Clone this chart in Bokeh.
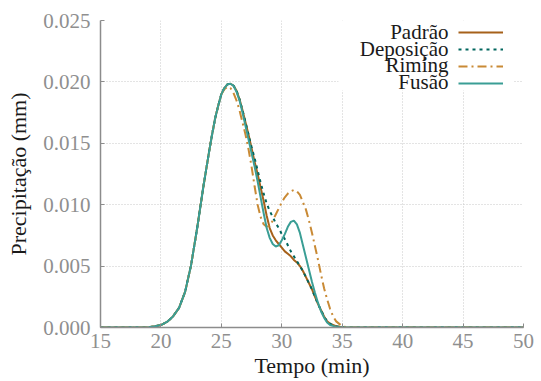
from bokeh.plotting import figure
from bokeh.models import (Legend, LegendItem, Label, BoxAnnotation, FixedTicker,
                          PrintfTickFormatter, Range1d)
from bokeh.embed import file_html
from bokeh.resources import INLINE

# ---------------- data ----------------
series_names = ["Padrão", "Deposição", "Riming", "Fusão"]

tempo_subida = [15, 16, 17, 18, 18.5, 19, 19.5, 20, 20.5, 21, 21.5, 22, 22.5, 23,
                23.5, 24, 24.25, 24.5, 24.75, 25]
precip_subida = [0, 0, 0, 0, 0.00001, 0.00003, 0.0001, 0.0002, 0.00045, 0.0009,
                 0.0016, 0.0029, 0.0051, 0.0081, 0.0114, 0.0144, 0.0158, 0.0171,
                 0.0181, 0.0190]

tempo_padrao = [25.25, 25.5, 25.75, 26.0, 26.25, 26.5, 26.75, 27.0, 27.25, 27.5, 27.75,
                28.0, 28.25, 28.5, 28.75, 29.0, 29.25, 29.5, 29.75, 30.0, 30.25, 30.5,
                30.75, 31.0, 31.25, 31.5, 31.75, 32.0, 32.25, 32.5, 32.75, 33.0, 33.25,
                33.5, 33.75, 34.0, 34.5, 35.0, 36.0, 50.0]
precip_padrao = [0.0195, 0.0198, 0.01985, 0.0197, 0.0193, 0.0186, 0.0177, 0.0167, 0.0157,
                 0.0146, 0.0135, 0.0125, 0.0114, 0.0103, 0.0091, 0.0081, 0.0075, 0.0071,
                 0.0068, 0.0065, 0.0062, 0.0060, 0.0058, 0.0055, 0.0053, 0.0050, 0.0046,
                 0.0041, 0.0036, 0.0031, 0.0025, 0.0019, 0.0014, 0.0009, 0.0005, 0.0003,
                 0.0001, 0.00002, 0, 0]

tempo_deposicao = [25.25, 25.5, 25.75, 26.0, 26.25, 26.5, 26.75, 27.0, 27.25, 27.5, 27.75,
                   28.0, 28.25, 28.5, 28.75, 29.0, 29.25, 29.5, 29.75, 30.0, 30.25, 30.5,
                   30.75, 31.0, 31.25, 31.5, 31.75, 32.0, 32.25, 32.5, 32.75, 33.0, 33.25,
                   33.5, 33.75, 34.0, 34.5, 35.0, 36.0, 50.0]
precip_deposicao = [0.0195, 0.0198, 0.01985, 0.0197, 0.0193, 0.0186, 0.0177, 0.0167, 0.0157,
                    0.0147, 0.0138, 0.0128, 0.0118, 0.0109, 0.0101, 0.0095, 0.0090, 0.0085,
                    0.0081, 0.0076, 0.0072, 0.0067, 0.0062, 0.0058, 0.0054, 0.0050, 0.0046,
                    0.0041, 0.0036, 0.0031, 0.0025, 0.0019, 0.0014, 0.0009, 0.0005, 0.0003,
                    0.0001, 0.00002, 0, 0]

tempo_riming = [25.25, 25.5, 25.75, 26.0, 26.25, 26.5, 26.75, 27.0, 27.25, 27.5, 27.75,
                28.0, 28.25, 28.5, 28.75, 29.0, 29.25, 29.5, 29.75, 30.0, 30.25, 30.5,
                30.75, 31.0, 31.25, 31.5, 31.75, 32.0, 32.25, 32.5, 32.75, 33.0, 33.25,
                33.5, 33.75, 34.0, 34.25, 34.5, 35.0, 35.5, 50.0]
precip_riming = [0.0194, 0.0196, 0.0195, 0.0191, 0.0185, 0.0177, 0.0167, 0.0157, 0.0145,
                 0.0131, 0.0115, 0.0100, 0.0090, 0.0084, 0.0082, 0.0083, 0.0087, 0.0092,
                 0.0097, 0.0102, 0.0106, 0.0109, 0.0111, 0.0112, 0.0111, 0.0108, 0.0102,
                 0.0096, 0.0087, 0.0077, 0.0066, 0.0055, 0.0043, 0.0032, 0.0023, 0.0015,
                 0.0009, 0.0005, 0.0001, 0, 0]

tempo_fusao = [25.25, 25.5, 25.75, 26.0, 26.25, 26.5, 26.75, 27.0, 27.25, 27.5, 27.75,
               28.0, 28.25, 28.5, 28.75, 29.0, 29.25, 29.5, 29.75, 30.0, 30.25, 30.5,
               30.75, 31.0, 31.25, 31.5, 31.75, 32.0, 32.25, 32.5, 32.75, 33.0, 33.25,
               33.5, 33.75, 34.0, 34.5, 35.0, 50.0]
precip_fusao = [0.0195, 0.0198, 0.01985, 0.0197, 0.0192, 0.0185, 0.0175, 0.0164, 0.0153,
                0.0142, 0.0131, 0.0119, 0.0106, 0.0093, 0.0081, 0.0073, 0.0068, 0.0066,
                0.0067, 0.0071, 0.0076, 0.0082, 0.0086, 0.0087, 0.0084, 0.0077, 0.0067,
                0.0057, 0.0047, 0.0037, 0.0028, 0.0020, 0.0013, 0.0008, 0.0004, 0.0002,
                0.00005, 0, 0]

x_ticks = [15, 20, 25, 30, 35, 40, 45, 50]
y_ticks = [0.0, 0.005, 0.010, 0.015, 0.020, 0.025]

# ---------------- styling ----------------
FONT = "Liberation Serif"
colors = ["#a6611a", "#01665e", "#c98a35", "#3a9e95"]
dashes = ["solid", "3 4", "9 4 2 4", "solid"]

p = figure(width=541, height=381, output_backend="svg", toolbar_location=None,
           x_range=Range1d(15, 50), y_range=Range1d(0, 0.025),
           min_border_left=100, min_border_right=18, min_border_top=20,
           min_border_bottom=54)
p.outline_line_color = None
p.background_fill_color = "white"

series = [
    (tempo_subida + tempo_padrao, precip_subida + precip_padrao),
    (tempo_subida + tempo_deposicao, precip_subida + precip_deposicao),
    (tempo_subida + tempo_riming, precip_subida + precip_riming),
    (tempo_subida + tempo_fusao, precip_subida + precip_fusao),
]

renderers = []
for (xs, ys), c, d in zip(series, colors, dashes):
    r = p.line(xs, ys, line_color=c, line_width=2, line_dash=d)
    renderers.append(r)

# axes
for ax in (p.xaxis[0], p.yaxis[0]):
    ax.axis_line_color = "#8c8c8c"
    ax.axis_line_width = 1.5
    ax.major_tick_line_color = "#8c8c8c"
    ax.major_tick_in = 4
    ax.major_tick_out = 0
    ax.minor_tick_line_color = None
    ax.major_label_text_font = FONT
    ax.major_label_text_font_size = "21px"
    ax.major_label_text_color = "#8f8f8f"
    ax.axis_label_text_font = FONT
    ax.axis_label_text_font_size = "22px"
    ax.axis_label_text_font_style = "normal"
    ax.axis_label_text_color = "#1a1a1a"

p.xaxis.ticker = FixedTicker(ticks=x_ticks)
p.yaxis.ticker = FixedTicker(ticks=y_ticks)
p.yaxis.formatter = PrintfTickFormatter(format="%.3f")
p.xaxis.axis_label = "Tempo (min)"
p.yaxis.axis_label = "Precipitação (mm)"
p.xaxis.major_label_standoff = 6
p.xaxis.axis_label_standoff = 2
p.yaxis.major_label_standoff = 10
p.yaxis.axis_label_standoff = 9

for g in (p.xgrid[0], p.ygrid[0]):
    g.grid_line_color = "#c8c8c8"
    g.grid_line_dash = "1 2"
    g.grid_line_width = 1

# legend: white box, right-aligned texts, line samples on the right
box = BoxAnnotation(left=238, right=413, top=307, bottom=237,
                    left_units="screen", right_units="screen",
                    top_units="screen", bottom_units="screen",
                    fill_color="white", fill_alpha=1.0, line_color=None)
p.add_layout(box)

baselines = [295.5, 279, 262.5, 246]
for name, yb in zip(series_names, baselines):
    p.add_layout(Label(x=348, y=yb, x_units="screen", y_units="screen", text=name,
                       text_font=FONT, text_font_size="21px", text_color="#1a1a1a",
                       text_align="right", text_baseline="alphabetic"))

legend = Legend(items=[LegendItem(label="", renderers=[r]) for r in renderers],
                location=(358, 236), glyph_width=45, glyph_height=16, spacing=1,
                padding=0, margin=0, label_width=0, label_height=0,
                label_standoff=0, label_text_font_size="1px",
                background_fill_alpha=0, border_line_color=None)
p.add_layout(legend)

open("out.html", "w").write(file_html(p, INLINE))
